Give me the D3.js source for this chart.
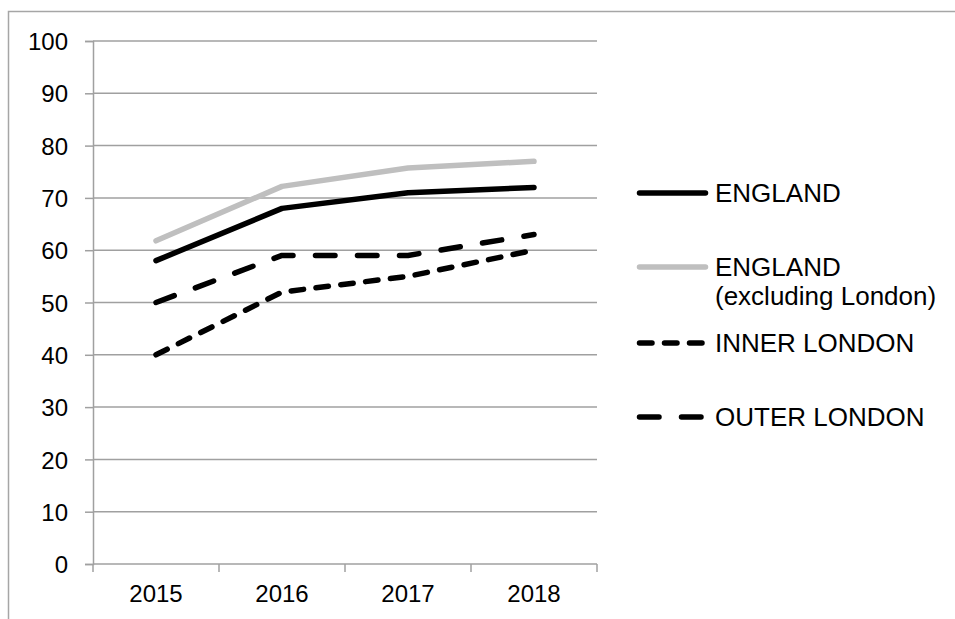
<!DOCTYPE html>
<html>
<head>
<meta charset="utf-8">
<script src="https://cdn.jsdelivr.net/npm/d3@7"></script>
<style>
  body { margin: 0; background: #fff; }
  text { font-family: "Liberation Sans", Arial, sans-serif; fill: #000; }
</style>
</head>
<body>
<div class="canvas"></div>
<script>
const years = ['2015', '2016', '2017', '2018'];
const england = [58, 68, 71, 72];
const englandExLondon = [61.8, 72.2, 75.7, 77];
const innerLondon = [40, 52, 55, 60];
const outerLondon = [50, 59, 59, 63];
const yTicks = [0, 10, 20, 30, 40, 50, 60, 70, 80, 90, 100];

const series = [
    { name: ['ENGLAND'], values: england, color: '#000', dash: null, legendY: 193 },
    { name: ['ENGLAND', '(excluding London)'], values: englandExLondon, color: '#bfbfbf', dash: null, legendY: 267 },
    { name: ['INNER LONDON'], values: innerLondon, color: '#000', dash: '12.5 12.5', legendY: 343 },
    { name: ['OUTER LONDON'], values: outerLondon, color: '#000', dash: '19.5 22.5', legendY: 417 }
];

const plot = { left: 93, right: 597, top: 41, bottom: 564 };
const font = '"Liberation Sans", Arial, sans-serif';

const svg = d3.select('.canvas')
    .append('svg')
    .attr('width', 955)
    .attr('height', 619);

// outer frame (only top and left edges fall inside the picture)
svg.append('path')
    .attr('d', 'M8.5,619 L8.5,11.5 L955,11.5')
    .attr('fill', 'none')
    .attr('stroke', '#a6a6a6')
    .attr('stroke-width', 1.5);

const x = d3.scaleBand()
    .domain(years)
    .range([plot.left, plot.right]);

const y = d3.scaleLinear()
    .domain([0, 100])
    .range([plot.bottom, plot.top]);

const gridColor = '#a0a0a0';

// horizontal gridlines
svg.append('g')
    .selectAll('line')
    .data(yTicks.filter(d => d > 0))
    .enter()
    .append('line')
    .attr('x1', plot.left)
    .attr('x2', plot.right)
    .attr('y1', d => y(d))
    .attr('y2', d => y(d))
    .attr('stroke', gridColor)
    .attr('stroke-width', 1.5);

// y axis
const yAxis = svg.append('g')
    .attr('transform', `translate(${plot.left},0)`)
    .call(d3.axisLeft(y).tickValues(yTicks).tickSize(8).tickPadding(17));
yAxis.select('.domain').attr('stroke', gridColor).attr('stroke-width', 1.5);
yAxis.selectAll('.tick line').attr('stroke', gridColor).attr('stroke-width', 1.5);
yAxis.selectAll('.tick text')
    .attr('font-size', 24)
    .attr('font-family', font)
    .attr('fill', '#000')
    .attr('dy', '0.36em');

// x axis
const xAxis = svg.append('g')
    .attr('transform', `translate(0,${plot.bottom})`)
    .call(d3.axisBottom(x).tickSize(0).tickPadding(21));
xAxis.select('.domain').remove();
xAxis.selectAll('.tick text')
    .attr('font-size', 24)
    .attr('font-family', font)
    .attr('fill', '#000');

const xTickPos = years.map(d => x(d)).concat([plot.right]);
svg.append('line')
    .attr('x1', plot.left).attr('x2', plot.right)
    .attr('y1', plot.bottom).attr('y2', plot.bottom)
    .attr('stroke', gridColor).attr('stroke-width', 1.5);
svg.append('g')
    .selectAll('line')
    .data(xTickPos)
    .enter()
    .append('line')
    .attr('x1', d => d).attr('x2', d => d)
    .attr('y1', plot.bottom).attr('y2', plot.bottom + 8)
    .attr('stroke', gridColor)
    .attr('stroke-width', 1.5);

// lines
const line = d3.line()
    .x((d, i) => x(years[i]) + x.bandwidth() / 2)
    .y(d => y(d));

svg.append('g')
    .selectAll('path')
    .data(series)
    .enter()
    .append('path')
    .attr('d', d => line(d.values))
    .attr('fill', 'none')
    .attr('stroke', d => d.color)
    .attr('stroke-width', 5.5)
    .attr('stroke-linecap', 'round')
    .attr('stroke-linejoin', 'round')
    .attr('stroke-dasharray', d => d.dash);

// legend
const legend = svg.append('g');
const items = legend.selectAll('g')
    .data(series)
    .enter()
    .append('g')
    .attr('transform', d => `translate(0,${d.legendY})`);

items.append('line')
    .attr('x1', 639.5).attr('x2', 705.5)
    .attr('y1', 0).attr('y2', 0)
    .attr('stroke', d => d.color)
    .attr('stroke-width', 5.5)
    .attr('stroke-linecap', 'round')
    .attr('stroke-dasharray', d => d.dash);

items.each(function(d) {
    const t = d3.select(this).append('text')
        .attr('x', 715)
        .attr('y', 9)
        .attr('font-size', 26);
    d.name.forEach((s, i) => {
        t.append('tspan')
            .attr('x', 715)
            .attr('dy', i === 0 ? 0 : 29)
            .text(s);
    });
});
</script>
</body>
</html>
